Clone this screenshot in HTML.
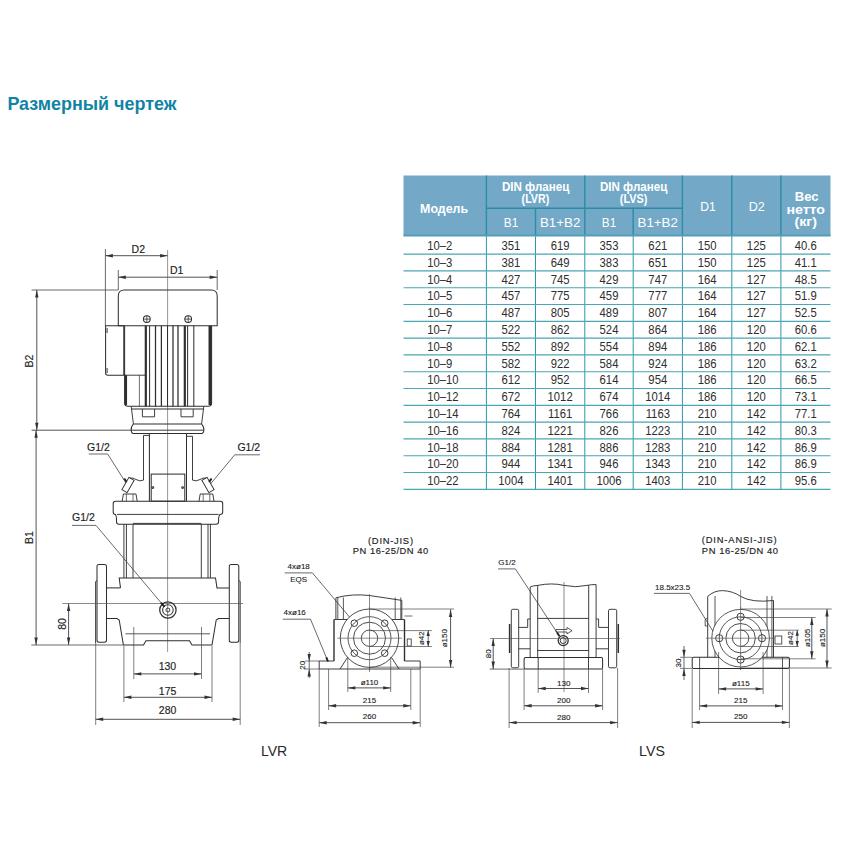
<!DOCTYPE html>
<html><head><meta charset="utf-8"><style>
html,body{margin:0;padding:0;background:#fff;width:850px;height:850px;overflow:hidden}
svg{position:absolute;left:0;top:0}
text{font-family:"Liberation Sans",sans-serif}
.t{font-weight:bold;font-size:19px;fill:#0f84a4}
.hb{font-weight:bold;font-size:12px;fill:#fff}
.hr{font-size:12px;fill:#fff}
.d{font-size:12.3px;fill:#2e2e2e}
.lb{font-size:14.6px;fill:#2a2a2a}
.dm{font-size:10.5px;fill:#222;stroke:#222;stroke-width:0.15}
.sm{font-size:8px;fill:#222;stroke:#222;stroke-width:0.12}
.md{font-size:9.4px;fill:#222;stroke:#222;stroke-width:0.15}
</style></head><body>
<svg width="850" height="850" viewBox="0 0 850 850">
<text x="7.4" y="110" class="t" textLength="169" lengthAdjust="spacingAndGlyphs">Размерный чертеж</text>
<rect x="403.5" y="175.5" width="427.0" height="60.900000000000006" fill="#73a9c7"/>
<line x1="486.4" y1="175.5" x2="486.4" y2="236.4" stroke="#2a8ca6" stroke-width="1.4"/>
<line x1="584.8" y1="175.5" x2="584.8" y2="236.4" stroke="#2a8ca6" stroke-width="1.4"/>
<line x1="682.4" y1="175.5" x2="682.4" y2="236.4" stroke="#2a8ca6" stroke-width="1.4"/>
<line x1="731.8" y1="175.5" x2="731.8" y2="236.4" stroke="#2a8ca6" stroke-width="1.4"/>
<line x1="780.9" y1="175.5" x2="780.9" y2="236.4" stroke="#2a8ca6" stroke-width="1.4"/>
<line x1="535.5" y1="208.3" x2="535.5" y2="236.4" stroke="#2a8ca6" stroke-width="1.4"/>
<line x1="633.2" y1="208.3" x2="633.2" y2="236.4" stroke="#2a8ca6" stroke-width="1.4"/>
<line x1="486.4" y1="236.4" x2="486.4" y2="489.3" stroke="#2b98ae" stroke-width="1"/>
<line x1="535.5" y1="236.4" x2="535.5" y2="489.3" stroke="#2b98ae" stroke-width="1"/>
<line x1="584.8" y1="236.4" x2="584.8" y2="489.3" stroke="#2b98ae" stroke-width="1"/>
<line x1="633.2" y1="236.4" x2="633.2" y2="489.3" stroke="#2b98ae" stroke-width="1"/>
<line x1="682.4" y1="236.4" x2="682.4" y2="489.3" stroke="#2b98ae" stroke-width="1"/>
<line x1="731.8" y1="236.4" x2="731.8" y2="489.3" stroke="#2b98ae" stroke-width="1"/>
<line x1="780.9" y1="236.4" x2="780.9" y2="489.3" stroke="#2b98ae" stroke-width="1"/>
<line x1="486.4" y1="208.3" x2="682.4" y2="208.3" stroke="#2a8ca6" stroke-width="1.4"/>
<line x1="403.5" y1="235.4" x2="830.5" y2="235.4" stroke="#4f9fb6" stroke-width="1.6"/>
<line x1="403.5" y1="254.1" x2="830.5" y2="254.1" stroke="#4aa6b2" stroke-width="1.15"/>
<line x1="403.5" y1="270.9" x2="830.5" y2="270.9" stroke="#4aa6b2" stroke-width="1.15"/>
<line x1="403.5" y1="287.7" x2="830.5" y2="287.7" stroke="#4aa6b2" stroke-width="1.15"/>
<line x1="403.5" y1="304.5" x2="830.5" y2="304.5" stroke="#4aa6b2" stroke-width="1.15"/>
<line x1="403.5" y1="321.3" x2="830.5" y2="321.3" stroke="#4aa6b2" stroke-width="1.15"/>
<line x1="403.5" y1="338.1" x2="830.5" y2="338.1" stroke="#4aa6b2" stroke-width="1.15"/>
<line x1="403.5" y1="354.9" x2="830.5" y2="354.9" stroke="#4aa6b2" stroke-width="1.15"/>
<line x1="403.5" y1="371.7" x2="830.5" y2="371.7" stroke="#4aa6b2" stroke-width="1.15"/>
<line x1="403.5" y1="388.5" x2="830.5" y2="388.5" stroke="#4aa6b2" stroke-width="1.15"/>
<line x1="403.5" y1="405.3" x2="830.5" y2="405.3" stroke="#4aa6b2" stroke-width="1.15"/>
<line x1="403.5" y1="422.1" x2="830.5" y2="422.1" stroke="#4aa6b2" stroke-width="1.15"/>
<line x1="403.5" y1="438.9" x2="830.5" y2="438.9" stroke="#4aa6b2" stroke-width="1.15"/>
<line x1="403.5" y1="455.7" x2="830.5" y2="455.7" stroke="#4aa6b2" stroke-width="1.15"/>
<line x1="403.5" y1="472.5" x2="830.5" y2="472.5" stroke="#4aa6b2" stroke-width="1.15"/>
<line x1="403.5" y1="489.3" x2="830.5" y2="489.3" stroke="#4aa6b2" stroke-width="1.15"/>
<text x="420.1" y="213" class="hb" textLength="48" lengthAdjust="spacingAndGlyphs">Модель</text>
<text x="501.9" y="190.5" class="hb" textLength="67.4" lengthAdjust="spacingAndGlyphs">DIN фланец</text>
<text x="521.6" y="203.2" class="hb" textLength="27.6" lengthAdjust="spacingAndGlyphs">(LVR)</text>
<text x="599.9" y="190.5" class="hb" textLength="67.4" lengthAdjust="spacingAndGlyphs">DIN фланец</text>
<text x="619.8" y="203.2" class="hb" textLength="27.6" lengthAdjust="spacingAndGlyphs">(LVS)</text>
<text x="503.8" y="227.2" class="hr" textLength="14.4" lengthAdjust="spacingAndGlyphs">B1</text>
<text x="540.0" y="227.2" class="hr" textLength="40.3" lengthAdjust="spacingAndGlyphs">B1+B2</text>
<text x="601.8" y="227.2" class="hr" textLength="14.4" lengthAdjust="spacingAndGlyphs">B1</text>
<text x="637.6" y="227.2" class="hr" textLength="40.3" lengthAdjust="spacingAndGlyphs">B1+B2</text>
<text x="700.3" y="211" class="hr" textLength="15.5" lengthAdjust="spacingAndGlyphs">D1</text>
<text x="748.7" y="211" class="hr" textLength="16" lengthAdjust="spacingAndGlyphs">D2</text>
<text x="794.8" y="201" class="hb" textLength="23.6" lengthAdjust="spacingAndGlyphs">Вес</text>
<text x="786.4" y="213.7" class="hb" textLength="38.6" lengthAdjust="spacingAndGlyphs">нетто</text>
<text x="794.4" y="226" class="hb" textLength="22.6" lengthAdjust="spacingAndGlyphs">(кг)</text>
<text class="d" transform="translate(427.2 249.9) scale(0.92 1)">10–2</text>
<text class="d" text-anchor="middle" transform="translate(510.9 249.9) scale(0.92 1)">351</text>
<text class="d" text-anchor="middle" transform="translate(560.1 249.9) scale(0.92 1)">619</text>
<text class="d" text-anchor="middle" transform="translate(609.0 249.9) scale(0.92 1)">353</text>
<text class="d" text-anchor="middle" transform="translate(657.8 249.9) scale(0.92 1)">621</text>
<text class="d" text-anchor="middle" transform="translate(707.1 249.9) scale(0.92 1)">150</text>
<text class="d" text-anchor="middle" transform="translate(756.3 249.9) scale(0.92 1)">125</text>
<text class="d" text-anchor="middle" transform="translate(805.7 249.9) scale(0.92 1)">40.6</text>
<text class="d" transform="translate(427.2 266.7) scale(0.92 1)">10–3</text>
<text class="d" text-anchor="middle" transform="translate(510.9 266.7) scale(0.92 1)">381</text>
<text class="d" text-anchor="middle" transform="translate(560.1 266.7) scale(0.92 1)">649</text>
<text class="d" text-anchor="middle" transform="translate(609.0 266.7) scale(0.92 1)">383</text>
<text class="d" text-anchor="middle" transform="translate(657.8 266.7) scale(0.92 1)">651</text>
<text class="d" text-anchor="middle" transform="translate(707.1 266.7) scale(0.92 1)">150</text>
<text class="d" text-anchor="middle" transform="translate(756.3 266.7) scale(0.92 1)">125</text>
<text class="d" text-anchor="middle" transform="translate(805.7 266.7) scale(0.92 1)">41.1</text>
<text class="d" transform="translate(427.2 283.5) scale(0.92 1)">10–4</text>
<text class="d" text-anchor="middle" transform="translate(510.9 283.5) scale(0.92 1)">427</text>
<text class="d" text-anchor="middle" transform="translate(560.1 283.5) scale(0.92 1)">745</text>
<text class="d" text-anchor="middle" transform="translate(609.0 283.5) scale(0.92 1)">429</text>
<text class="d" text-anchor="middle" transform="translate(657.8 283.5) scale(0.92 1)">747</text>
<text class="d" text-anchor="middle" transform="translate(707.1 283.5) scale(0.92 1)">164</text>
<text class="d" text-anchor="middle" transform="translate(756.3 283.5) scale(0.92 1)">127</text>
<text class="d" text-anchor="middle" transform="translate(805.7 283.5) scale(0.92 1)">48.5</text>
<text class="d" transform="translate(427.2 300.3) scale(0.92 1)">10–5</text>
<text class="d" text-anchor="middle" transform="translate(510.9 300.3) scale(0.92 1)">457</text>
<text class="d" text-anchor="middle" transform="translate(560.1 300.3) scale(0.92 1)">775</text>
<text class="d" text-anchor="middle" transform="translate(609.0 300.3) scale(0.92 1)">459</text>
<text class="d" text-anchor="middle" transform="translate(657.8 300.3) scale(0.92 1)">777</text>
<text class="d" text-anchor="middle" transform="translate(707.1 300.3) scale(0.92 1)">164</text>
<text class="d" text-anchor="middle" transform="translate(756.3 300.3) scale(0.92 1)">127</text>
<text class="d" text-anchor="middle" transform="translate(805.7 300.3) scale(0.92 1)">51.9</text>
<text class="d" transform="translate(427.2 317.1) scale(0.92 1)">10–6</text>
<text class="d" text-anchor="middle" transform="translate(510.9 317.1) scale(0.92 1)">487</text>
<text class="d" text-anchor="middle" transform="translate(560.1 317.1) scale(0.92 1)">805</text>
<text class="d" text-anchor="middle" transform="translate(609.0 317.1) scale(0.92 1)">489</text>
<text class="d" text-anchor="middle" transform="translate(657.8 317.1) scale(0.92 1)">807</text>
<text class="d" text-anchor="middle" transform="translate(707.1 317.1) scale(0.92 1)">164</text>
<text class="d" text-anchor="middle" transform="translate(756.3 317.1) scale(0.92 1)">127</text>
<text class="d" text-anchor="middle" transform="translate(805.7 317.1) scale(0.92 1)">52.5</text>
<text class="d" transform="translate(427.2 333.9) scale(0.92 1)">10–7</text>
<text class="d" text-anchor="middle" transform="translate(510.9 333.9) scale(0.92 1)">522</text>
<text class="d" text-anchor="middle" transform="translate(560.1 333.9) scale(0.92 1)">862</text>
<text class="d" text-anchor="middle" transform="translate(609.0 333.9) scale(0.92 1)">524</text>
<text class="d" text-anchor="middle" transform="translate(657.8 333.9) scale(0.92 1)">864</text>
<text class="d" text-anchor="middle" transform="translate(707.1 333.9) scale(0.92 1)">186</text>
<text class="d" text-anchor="middle" transform="translate(756.3 333.9) scale(0.92 1)">120</text>
<text class="d" text-anchor="middle" transform="translate(805.7 333.9) scale(0.92 1)">60.6</text>
<text class="d" transform="translate(427.2 350.7) scale(0.92 1)">10–8</text>
<text class="d" text-anchor="middle" transform="translate(510.9 350.7) scale(0.92 1)">552</text>
<text class="d" text-anchor="middle" transform="translate(560.1 350.7) scale(0.92 1)">892</text>
<text class="d" text-anchor="middle" transform="translate(609.0 350.7) scale(0.92 1)">554</text>
<text class="d" text-anchor="middle" transform="translate(657.8 350.7) scale(0.92 1)">894</text>
<text class="d" text-anchor="middle" transform="translate(707.1 350.7) scale(0.92 1)">186</text>
<text class="d" text-anchor="middle" transform="translate(756.3 350.7) scale(0.92 1)">120</text>
<text class="d" text-anchor="middle" transform="translate(805.7 350.7) scale(0.92 1)">62.1</text>
<text class="d" transform="translate(427.2 367.5) scale(0.92 1)">10–9</text>
<text class="d" text-anchor="middle" transform="translate(510.9 367.5) scale(0.92 1)">582</text>
<text class="d" text-anchor="middle" transform="translate(560.1 367.5) scale(0.92 1)">922</text>
<text class="d" text-anchor="middle" transform="translate(609.0 367.5) scale(0.92 1)">584</text>
<text class="d" text-anchor="middle" transform="translate(657.8 367.5) scale(0.92 1)">924</text>
<text class="d" text-anchor="middle" transform="translate(707.1 367.5) scale(0.92 1)">186</text>
<text class="d" text-anchor="middle" transform="translate(756.3 367.5) scale(0.92 1)">120</text>
<text class="d" text-anchor="middle" transform="translate(805.7 367.5) scale(0.92 1)">63.2</text>
<text class="d" transform="translate(427.2 384.3) scale(0.92 1)">10–10</text>
<text class="d" text-anchor="middle" transform="translate(510.9 384.3) scale(0.92 1)">612</text>
<text class="d" text-anchor="middle" transform="translate(560.1 384.3) scale(0.92 1)">952</text>
<text class="d" text-anchor="middle" transform="translate(609.0 384.3) scale(0.92 1)">614</text>
<text class="d" text-anchor="middle" transform="translate(657.8 384.3) scale(0.92 1)">954</text>
<text class="d" text-anchor="middle" transform="translate(707.1 384.3) scale(0.92 1)">186</text>
<text class="d" text-anchor="middle" transform="translate(756.3 384.3) scale(0.92 1)">120</text>
<text class="d" text-anchor="middle" transform="translate(805.7 384.3) scale(0.92 1)">66.5</text>
<text class="d" transform="translate(427.2 401.1) scale(0.92 1)">10–12</text>
<text class="d" text-anchor="middle" transform="translate(510.9 401.1) scale(0.92 1)">672</text>
<text class="d" text-anchor="middle" transform="translate(560.1 401.1) scale(0.92 1)">1012</text>
<text class="d" text-anchor="middle" transform="translate(609.0 401.1) scale(0.92 1)">674</text>
<text class="d" text-anchor="middle" transform="translate(657.8 401.1) scale(0.92 1)">1014</text>
<text class="d" text-anchor="middle" transform="translate(707.1 401.1) scale(0.92 1)">186</text>
<text class="d" text-anchor="middle" transform="translate(756.3 401.1) scale(0.92 1)">120</text>
<text class="d" text-anchor="middle" transform="translate(805.7 401.1) scale(0.92 1)">73.1</text>
<text class="d" transform="translate(427.2 417.9) scale(0.92 1)">10–14</text>
<text class="d" text-anchor="middle" transform="translate(510.9 417.9) scale(0.92 1)">764</text>
<text class="d" text-anchor="middle" transform="translate(560.1 417.9) scale(0.92 1)">1161</text>
<text class="d" text-anchor="middle" transform="translate(609.0 417.9) scale(0.92 1)">766</text>
<text class="d" text-anchor="middle" transform="translate(657.8 417.9) scale(0.92 1)">1163</text>
<text class="d" text-anchor="middle" transform="translate(707.1 417.9) scale(0.92 1)">210</text>
<text class="d" text-anchor="middle" transform="translate(756.3 417.9) scale(0.92 1)">142</text>
<text class="d" text-anchor="middle" transform="translate(805.7 417.9) scale(0.92 1)">77.1</text>
<text class="d" transform="translate(427.2 434.7) scale(0.92 1)">10–16</text>
<text class="d" text-anchor="middle" transform="translate(510.9 434.7) scale(0.92 1)">824</text>
<text class="d" text-anchor="middle" transform="translate(560.1 434.7) scale(0.92 1)">1221</text>
<text class="d" text-anchor="middle" transform="translate(609.0 434.7) scale(0.92 1)">826</text>
<text class="d" text-anchor="middle" transform="translate(657.8 434.7) scale(0.92 1)">1223</text>
<text class="d" text-anchor="middle" transform="translate(707.1 434.7) scale(0.92 1)">210</text>
<text class="d" text-anchor="middle" transform="translate(756.3 434.7) scale(0.92 1)">142</text>
<text class="d" text-anchor="middle" transform="translate(805.7 434.7) scale(0.92 1)">80.3</text>
<text class="d" transform="translate(427.2 451.5) scale(0.92 1)">10–18</text>
<text class="d" text-anchor="middle" transform="translate(510.9 451.5) scale(0.92 1)">884</text>
<text class="d" text-anchor="middle" transform="translate(560.1 451.5) scale(0.92 1)">1281</text>
<text class="d" text-anchor="middle" transform="translate(609.0 451.5) scale(0.92 1)">886</text>
<text class="d" text-anchor="middle" transform="translate(657.8 451.5) scale(0.92 1)">1283</text>
<text class="d" text-anchor="middle" transform="translate(707.1 451.5) scale(0.92 1)">210</text>
<text class="d" text-anchor="middle" transform="translate(756.3 451.5) scale(0.92 1)">142</text>
<text class="d" text-anchor="middle" transform="translate(805.7 451.5) scale(0.92 1)">86.9</text>
<text class="d" transform="translate(427.2 468.3) scale(0.92 1)">10–20</text>
<text class="d" text-anchor="middle" transform="translate(510.9 468.3) scale(0.92 1)">944</text>
<text class="d" text-anchor="middle" transform="translate(560.1 468.3) scale(0.92 1)">1341</text>
<text class="d" text-anchor="middle" transform="translate(609.0 468.3) scale(0.92 1)">946</text>
<text class="d" text-anchor="middle" transform="translate(657.8 468.3) scale(0.92 1)">1343</text>
<text class="d" text-anchor="middle" transform="translate(707.1 468.3) scale(0.92 1)">210</text>
<text class="d" text-anchor="middle" transform="translate(756.3 468.3) scale(0.92 1)">142</text>
<text class="d" text-anchor="middle" transform="translate(805.7 468.3) scale(0.92 1)">86.9</text>
<text class="d" transform="translate(427.2 485.1) scale(0.92 1)">10–22</text>
<text class="d" text-anchor="middle" transform="translate(510.9 485.1) scale(0.92 1)">1004</text>
<text class="d" text-anchor="middle" transform="translate(560.1 485.1) scale(0.92 1)">1401</text>
<text class="d" text-anchor="middle" transform="translate(609.0 485.1) scale(0.92 1)">1006</text>
<text class="d" text-anchor="middle" transform="translate(657.8 485.1) scale(0.92 1)">1403</text>
<text class="d" text-anchor="middle" transform="translate(707.1 485.1) scale(0.92 1)">210</text>
<text class="d" text-anchor="middle" transform="translate(756.3 485.1) scale(0.92 1)">142</text>
<text class="d" text-anchor="middle" transform="translate(805.7 485.1) scale(0.92 1)">95.6</text>
<line x1="167.6" y1="250" x2="167.6" y2="652" stroke="#666" stroke-width="0.69"/>
<line x1="105.4" y1="249" x2="105.4" y2="326" stroke="#444" stroke-width="0.8"/>
<line x1="105.4" y1="255.7" x2="167.6" y2="255.7" stroke="#444" stroke-width="0.92"/>
<polygon points="105.4,255.7 112.90,254.00 112.90,257.40" fill="#333"/>
<polygon points="167.6,255.7 160.10,257.40 160.10,254.00" fill="#333"/>
<text x="138.3" y="253" class="dm" text-anchor="middle" >D2</text>
<line x1="118.3" y1="270" x2="118.3" y2="290" stroke="#444" stroke-width="0.8"/>
<line x1="217.2" y1="270" x2="217.2" y2="290" stroke="#444" stroke-width="0.8"/>
<line x1="118.3" y1="277.2" x2="217.2" y2="277.2" stroke="#444" stroke-width="0.92"/>
<polygon points="118.3,277.2 125.80,275.50 125.80,278.90" fill="#333"/>
<polygon points="217.2,277.2 209.70,278.90 209.70,275.50" fill="#333"/>
<text x="176.6" y="274" class="dm" text-anchor="middle" >D1</text>
<path d="M118.3,325.8 V296 Q118.3,290 124.3,290 H211.2 Q217.2,290 217.2,296 V325.8 Z" fill="none" stroke="#2e2e2e" stroke-width="1.03"/>
<line x1="31.6" y1="290" x2="118.3" y2="290" stroke="#444" stroke-width="0.8"/>
<line x1="31.6" y1="430.2" x2="131.2" y2="430.2" stroke="#444" stroke-width="0.92"/>
<line x1="36.8" y1="290" x2="36.8" y2="430.2" stroke="#444" stroke-width="0.92"/>
<polygon points="36.8,290 38.50,297.50 35.10,297.50" fill="#333"/>
<polygon points="36.8,430.2 35.10,422.70 38.50,422.70" fill="#333"/>
<text x="0" y="0" class="dm" text-anchor="middle" transform="translate(28.8,361) rotate(-90) translate(0,3.8)">B2</text>
<circle cx="146.8" cy="319.1" r="3.4" fill="none" stroke="#2e2e2e" stroke-width="1.03"/>
<line x1="143.4" y1="319.1" x2="150.20000000000002" y2="319.1" stroke="#2e2e2e" stroke-width="0.8"/>
<line x1="146.8" y1="315.7" x2="146.8" y2="322.5" stroke="#2e2e2e" stroke-width="0.8"/>
<circle cx="188.2" cy="319.1" r="3.4" fill="none" stroke="#2e2e2e" stroke-width="1.03"/>
<line x1="184.79999999999998" y1="319.1" x2="191.6" y2="319.1" stroke="#2e2e2e" stroke-width="0.8"/>
<line x1="188.2" y1="315.7" x2="188.2" y2="322.5" stroke="#2e2e2e" stroke-width="0.8"/>
<path d="M123.8,325.8 H105.6 V373 Q105.6,375.2 107.8,375.2 H123.8 V325.8" fill="none" stroke="#2e2e2e" stroke-width="1.03"/>
<rect x="106.5" y="328" width="1.2" height="5" fill="#555"/>
<rect x="106.5" y="368" width="1.2" height="5" fill="#555"/>
<path d="M124.6,325.8 V403 Q124.6,406.3 128,406.3 H208.2 Q211.6,406.3 211.6,403 V325.8" fill="none" stroke="#2e2e2e" stroke-width="1.03"/>
<line x1="123.8" y1="375.2" x2="145.2" y2="375.2" stroke="#2e2e2e" stroke-width="0.92"/>
<line x1="125.9" y1="375.2" x2="125.9" y2="405" stroke="#2e2e2e" stroke-width="2.3"/>
<line x1="139.4" y1="375.2" x2="139.4" y2="406.3" stroke="#2e2e2e" stroke-width="0.69"/>
<line x1="145.8" y1="325.8" x2="145.8" y2="406.3" stroke="#2e2e2e" stroke-width="2.18"/>
<line x1="149.6" y1="325.8" x2="149.6" y2="406.3" stroke="#2e2e2e" stroke-width="1.03"/>
<line x1="155.5" y1="325.8" x2="155.5" y2="406.3" stroke="#2e2e2e" stroke-width="1.26"/>
<line x1="161.4" y1="325.8" x2="161.4" y2="406.3" stroke="#2e2e2e" stroke-width="1.26"/>
<line x1="167.5" y1="325.8" x2="167.5" y2="406.3" stroke="#2e2e2e" stroke-width="1.03"/>
<line x1="173" y1="325.8" x2="173" y2="406.3" stroke="#2e2e2e" stroke-width="1.26"/>
<line x1="178" y1="325.8" x2="178" y2="406.3" stroke="#2e2e2e" stroke-width="1.26"/>
<line x1="184.8" y1="325.8" x2="184.8" y2="406.3" stroke="#2e2e2e" stroke-width="2.18"/>
<line x1="187.6" y1="325.8" x2="187.6" y2="406.3" stroke="#2e2e2e" stroke-width="1.03"/>
<line x1="193.8" y1="325.8" x2="193.8" y2="406.3" stroke="#2e2e2e" stroke-width="1.03"/>
<line x1="209.9" y1="325.8" x2="209.9" y2="405" stroke="#2e2e2e" stroke-width="2.76"/>
<line x1="131.2" y1="409" x2="203.8" y2="409" stroke="#2e2e2e" stroke-width="1.03"/>
<polyline points="131.2,406.3 133.4,424" fill="none" stroke="#2e2e2e" stroke-width="0.92"/>
<polyline points="203.8,406.3 201.6,424" fill="none" stroke="#2e2e2e" stroke-width="0.92"/>
<polyline points="142.4,409 142.4,416.8 154.6,416.8 154.6,409" fill="none" stroke="#2e2e2e" stroke-width="0.92"/>
<polyline points="181,409 181,416.8 193.2,416.8 193.2,409" fill="none" stroke="#2e2e2e" stroke-width="0.92"/>
<line x1="133.4" y1="424" x2="201.6" y2="424" stroke="#2e2e2e" stroke-width="1.03"/>
<path d="M133.4,424 Q130.6,427.5 131.2,430.2 Q131.2,433.6 134.5,433.6 H200.5 Q203.8,433.6 203.8,430.2 Q204.4,427.5 201.6,424" fill="none" stroke="#2e2e2e" stroke-width="1.03"/>
<line x1="131.2" y1="430.2" x2="203.8" y2="430.2" stroke="#2e2e2e" stroke-width="0.92"/>
<polyline points="143.5,480 143.5,435.4 149.4,435.4" fill="none" stroke="#2e2e2e" stroke-width="0.92"/>
<polyline points="192.5,480 192.5,436.3 186.5,436.3" fill="none" stroke="#2e2e2e" stroke-width="0.92"/>
<line x1="149.4" y1="433.6" x2="149.4" y2="501.2" stroke="#2e2e2e" stroke-width="1.03"/>
<line x1="186.5" y1="433.6" x2="186.5" y2="501.2" stroke="#2e2e2e" stroke-width="1.03"/>
<rect x="151.2" y="474.1" width="33.6" height="27.1" rx="0" fill="none" stroke="#2e2e2e" stroke-width="1.03"/>
<circle cx="152.8" cy="487.6" r="0.9" fill="none" stroke="#2e2e2e" stroke-width="1.03"/>
<circle cx="182.6" cy="487.6" r="0.9" fill="none" stroke="#2e2e2e" stroke-width="1.03"/>
<path d="M143.7,480 Q140,482 136,479.5 Q133,477.5 130,478" fill="none" stroke="#2e2e2e" stroke-width="0.92"/>
<path d="M192.3,480 Q196,482 200,479.5 Q203,477.5 206,478" fill="none" stroke="#2e2e2e" stroke-width="0.92"/>
<rect x="-7" y="-3" width="14" height="6" fill="none" stroke="#2e2e2e" stroke-width="0.9" transform="translate(128,485) rotate(-60)"/>
<rect x="-7" y="-3" width="14" height="6" fill="none" stroke="#2e2e2e" stroke-width="0.9" transform="translate(208,485) rotate(60)"/>
<line x1="124.2" y1="478.5" x2="126.5" y2="482" stroke="#222" stroke-width="2.07"/>
<line x1="211.5" y1="478.5" x2="209.2" y2="482" stroke="#222" stroke-width="2.07"/>
<polyline points="122.2,501.2 123.4,494 136.0,494 137.2,501.2" fill="none" stroke="#2e2e2e" stroke-width="0.92"/>
<line x1="126.4" y1="494" x2="126.4" y2="501.2" stroke="#2e2e2e" stroke-width="0.69"/>
<line x1="133.0" y1="494" x2="133.0" y2="501.2" stroke="#2e2e2e" stroke-width="0.69"/>
<polyline points="199,501.2 200.2,494 212.8,494 214,501.2" fill="none" stroke="#2e2e2e" stroke-width="0.92"/>
<line x1="203.2" y1="494" x2="203.2" y2="501.2" stroke="#2e2e2e" stroke-width="0.69"/>
<line x1="209.8" y1="494" x2="209.8" y2="501.2" stroke="#2e2e2e" stroke-width="0.69"/>
<path d="M115.5,501.2 H220.4 Q222.7,501.2 222.7,503.5 V512 Q222.7,514.4 220,514.4 Q218.6,516 218.6,519 V521.5 Q218.6,524.2 216,524.2 H119 Q116.5,524.2 116.5,521.5 V519 Q116.5,516 115.5,514.4 Q113.2,514.4 113.2,512 V503.5 Q113.2,501.2 115.5,501.2 Z" fill="none" stroke="#2e2e2e" stroke-width="1.03"/>
<line x1="117" y1="514.4" x2="218.6" y2="514.4" stroke="#2e2e2e" stroke-width="0.92"/>
<line x1="133" y1="523.4" x2="201.3" y2="523.4" stroke="#2e2e2e" stroke-width="0.92"/>
<line x1="123.9" y1="524.2" x2="123.9" y2="578" stroke="#2e2e2e" stroke-width="0.92"/>
<line x1="126.4" y1="524.2" x2="126.4" y2="578" stroke="#2e2e2e" stroke-width="0.92"/>
<line x1="133" y1="524.2" x2="133" y2="578" stroke="#2e2e2e" stroke-width="0.92"/>
<line x1="201.3" y1="524.2" x2="201.3" y2="578" stroke="#2e2e2e" stroke-width="0.92"/>
<line x1="208" y1="524.2" x2="208" y2="578" stroke="#2e2e2e" stroke-width="0.92"/>
<line x1="210.4" y1="524.2" x2="210.4" y2="578" stroke="#2e2e2e" stroke-width="0.92"/>
<polyline points="120.5,587.9 119.2,578 215.5,578 217,587.9 229.3,587.9" fill="none" stroke="#2e2e2e" stroke-width="1.03"/>
<line x1="106.5" y1="587.9" x2="120.5" y2="587.9" stroke="#2e2e2e" stroke-width="1.03"/>
<path d="M99,564.6 H104.5 Q106.5,564.6 106.5,566.6 V640.3 Q106.5,642.3 104.5,642.3 H99 Q97,642.3 97,640.3 V566.6 Q97,564.6 99,564.6 Z" fill="none" stroke="#2e2e2e" stroke-width="1.03"/>
<path d="M231.3,564.6 H236.8 Q238.8,564.6 238.8,566.6 V640.3 Q238.8,642.3 236.8,642.3 H231.3 Q229.3,642.3 229.3,640.3 V566.6 Q229.3,564.6 231.3,564.6 Z" fill="none" stroke="#2e2e2e" stroke-width="1.03"/>
<polyline points="97,580.5 95.6,581.5 95.6,643" fill="none" stroke="#2e2e2e" stroke-width="0.92"/>
<polyline points="238.8,580.5 240.2,581.5 240.2,643" fill="none" stroke="#2e2e2e" stroke-width="0.92"/>
<polyline points="106.5,618.6 117,618.6 119.2,620 123.4,645 143.5,645 146,640.8 189.5,640.8 192,645 212,645 216.2,620 218.5,618.6 229.3,618.6" fill="none" stroke="#2e2e2e" stroke-width="1.03"/>
<line x1="125.5" y1="633.8" x2="210" y2="633.8" stroke="#2e2e2e" stroke-width="0.8"/>
<line x1="62.4" y1="603.5" x2="243" y2="603.5" stroke="#555" stroke-width="0.69"/>
<circle cx="167.9" cy="610" r="8.2" fill="none" stroke="#2e2e2e" stroke-width="1.26"/>
<circle cx="167.9" cy="610" r="5.3" fill="none" stroke="#2e2e2e" stroke-width="1.03"/>
<circle cx="167.9" cy="610" r="2" fill="none" stroke="#2e2e2e" stroke-width="0.92"/>
<text x="98.5" y="450.6" class="dm" text-anchor="middle" >G1/2</text>
<line x1="88.8" y1="454" x2="107.6" y2="454" stroke="#444" stroke-width="0.8"/>
<line x1="107.6" y1="454" x2="126" y2="483" stroke="#444" stroke-width="0.8"/>
<text x="248.8" y="450.6" class="dm" text-anchor="middle" >G1/2</text>
<line x1="234.7" y1="454.8" x2="260" y2="454.8" stroke="#444" stroke-width="0.8"/>
<line x1="234.7" y1="454.8" x2="210.5" y2="484" stroke="#444" stroke-width="0.8"/>
<text x="83.5" y="521" class="dm" text-anchor="middle" >G1/2</text>
<line x1="72" y1="525.4" x2="96" y2="525.4" stroke="#444" stroke-width="0.8"/>
<line x1="96" y1="525.4" x2="163.7" y2="605.9" stroke="#444" stroke-width="0.8"/>
<line x1="161" y1="602.7" x2="164.5" y2="606.8" stroke="#222" stroke-width="1.95"/>
<line x1="31.3" y1="645" x2="123" y2="645" stroke="#444" stroke-width="0.8"/>
<line x1="36.1" y1="430.2" x2="36.1" y2="645" stroke="#444" stroke-width="0.92"/>
<polygon points="36.1,430.2 37.80,437.70 34.40,437.70" fill="#333"/>
<polygon points="36.1,645 34.40,637.50 37.80,637.50" fill="#333"/>
<text x="0" y="0" class="dm" text-anchor="middle" transform="translate(28.8,537.6) rotate(-90) translate(0,3.8)">B1</text>
<line x1="68.6" y1="603.5" x2="68.6" y2="645" stroke="#444" stroke-width="0.92"/>
<polygon points="68.6,603.5 70.30,611.00 66.90,611.00" fill="#333"/>
<polygon points="68.6,645 66.90,637.50 70.30,637.50" fill="#333"/>
<text x="0" y="0" class="dm" text-anchor="middle" transform="translate(61.8,623.9) rotate(-90) translate(0,3.8)">80</text>
<line x1="133.8" y1="627" x2="133.8" y2="679" stroke="#444" stroke-width="0.69"/>
<line x1="201.5" y1="627" x2="201.5" y2="679" stroke="#444" stroke-width="0.69"/>
<line x1="133.8" y1="673.9" x2="201.5" y2="673.9" stroke="#444" stroke-width="0.92"/>
<polygon points="133.8,673.9 141.30,672.20 141.30,675.60" fill="#333"/>
<polygon points="201.5,673.9 194.00,675.60 194.00,672.20" fill="#333"/>
<text x="167.4" y="669.6" class="dm" text-anchor="middle" >130</text>
<line x1="123.9" y1="646" x2="123.9" y2="702" stroke="#444" stroke-width="0.69"/>
<line x1="212" y1="646" x2="212" y2="702" stroke="#444" stroke-width="0.69"/>
<line x1="123.9" y1="697.3" x2="212" y2="697.3" stroke="#444" stroke-width="0.92"/>
<polygon points="123.9,697.3 131.40,695.60 131.40,699.00" fill="#333"/>
<polygon points="212,697.3 204.50,699.00 204.50,695.60" fill="#333"/>
<text x="167.6" y="694.5" class="dm" text-anchor="middle" >175</text>
<line x1="95.7" y1="643" x2="95.7" y2="725" stroke="#444" stroke-width="0.69"/>
<line x1="240.2" y1="643" x2="240.2" y2="725" stroke="#444" stroke-width="0.69"/>
<line x1="95.7" y1="719.3" x2="240.2" y2="719.3" stroke="#444" stroke-width="0.92"/>
<polygon points="95.7,719.3 103.20,717.60 103.20,721.00" fill="#333"/>
<polygon points="240.2,719.3 232.70,721.00 232.70,717.60" fill="#333"/>
<text x="167.6" y="713.7" class="dm" text-anchor="middle" >280</text>
<text x="390.5" y="544.1" class="md" text-anchor="middle"  textLength="45" lengthAdjust="spacing">(DIN-JIS)</text>
<text x="390.5" y="554.1" class="md" text-anchor="middle"  textLength="75.3" lengthAdjust="spacing">PN 16-25/DN 40</text>
<text x="298.7" y="569.2" class="sm" text-anchor="middle" >4xø18</text>
<text x="298.7" y="581.8" class="sm" text-anchor="middle" >EQS</text>
<line x1="284.7" y1="572.9" x2="312.4" y2="572.9" stroke="#444" stroke-width="0.8"/>
<line x1="312.4" y1="572.9" x2="352" y2="620" stroke="#444" stroke-width="0.8"/>
<line x1="350" y1="617.5" x2="353.5" y2="622" stroke="#222" stroke-width="2.07"/>
<text x="294.7" y="614.7" class="sm" text-anchor="middle" >4xø16</text>
<line x1="282.8" y1="619.2" x2="310.5" y2="619.2" stroke="#444" stroke-width="0.8"/>
<line x1="310.5" y1="619.2" x2="328" y2="661.5" stroke="#444" stroke-width="0.8"/>
<line x1="326.3" y1="657.4" x2="328" y2="661.5" stroke="#222" stroke-width="1.95"/>
<path d="M335.9,619.2 V597.8 Q352,593.5 369.4,595.5 Q386,598 401.8,600.4 V619.2" fill="none" stroke="#2e2e2e" stroke-width="0.92"/>
<line x1="337.8" y1="597.5" x2="337.8" y2="619.2" stroke="#2e2e2e" stroke-width="0.8"/>
<line x1="343.4" y1="597.5" x2="343.4" y2="619.2" stroke="#2e2e2e" stroke-width="0.8"/>
<line x1="395.2" y1="597.5" x2="395.2" y2="619.2" stroke="#2e2e2e" stroke-width="0.8"/>
<line x1="400.8" y1="597.5" x2="400.8" y2="619.2" stroke="#2e2e2e" stroke-width="0.8"/>
<line x1="369.5" y1="594" x2="369.5" y2="672" stroke="#555" stroke-width="0.69"/>
<line x1="334" y1="619.5" x2="404.5" y2="619.5" stroke="#2e2e2e" stroke-width="0.92"/>
<line x1="334" y1="619.5" x2="334" y2="661" stroke="#2e2e2e" stroke-width="1.38"/>
<line x1="404.5" y1="619.5" x2="404.5" y2="661" stroke="#2e2e2e" stroke-width="1.38"/>
<line x1="319.2" y1="661" x2="334" y2="661" stroke="#2e2e2e" stroke-width="0.92"/>
<line x1="404.5" y1="661" x2="420.2" y2="661" stroke="#2e2e2e" stroke-width="0.92"/>
<line x1="319.2" y1="661" x2="319.2" y2="669" stroke="#2e2e2e" stroke-width="0.92"/>
<line x1="420.2" y1="661" x2="420.2" y2="669" stroke="#2e2e2e" stroke-width="0.92"/>
<line x1="319.2" y1="669" x2="420.2" y2="669" stroke="#2e2e2e" stroke-width="0.92"/>
<line x1="347.5" y1="657.5" x2="340" y2="669" stroke="#2e2e2e" stroke-width="0.92"/>
<line x1="391.5" y1="657.5" x2="399" y2="669" stroke="#2e2e2e" stroke-width="0.92"/>
<line x1="404.5" y1="616" x2="412.5" y2="616" stroke="#2e2e2e" stroke-width="0.69"/>
<rect x="407.2" y="639" width="4" height="7" rx="0" fill="none" stroke="#2e2e2e" stroke-width="0.8"/>
<circle cx="369.5" cy="638.2" r="29.2" fill="#fff" stroke="#2e2e2e" stroke-width="0.86"/>
<circle cx="369.5" cy="638.2" r="21.5" fill="none" stroke="#2e2e2e" stroke-width="0.8"/>
<circle cx="369.5" cy="638.2" r="16" fill="none" stroke="#2e2e2e" stroke-width="0.86"/>
<circle cx="369.5" cy="638.2" r="8.2" fill="none" stroke="#2e2e2e" stroke-width="0.86"/>
<circle cx="354.3" cy="623.2" r="3.3" fill="none" stroke="#2e2e2e" stroke-width="0.92"/>
<circle cx="354.3" cy="653.2" r="3.3" fill="none" stroke="#2e2e2e" stroke-width="0.92"/>
<circle cx="384.7" cy="623.2" r="3.3" fill="none" stroke="#2e2e2e" stroke-width="0.92"/>
<circle cx="384.7" cy="653.2" r="3.3" fill="none" stroke="#2e2e2e" stroke-width="0.92"/>
<line x1="337.5" y1="638.2" x2="402" y2="638.2" stroke="#555" stroke-width="0.69"/>
<line x1="369.5" y1="607" x2="369.5" y2="670" stroke="#555" stroke-width="0.69"/>
<line x1="369.5" y1="609" x2="454" y2="609" stroke="#444" stroke-width="0.69"/>
<line x1="369.5" y1="667.2" x2="454" y2="667.2" stroke="#444" stroke-width="0.69"/>
<line x1="370" y1="630.6" x2="431.8" y2="630.6" stroke="#444" stroke-width="0.69"/>
<line x1="370" y1="646.5" x2="431.8" y2="646.5" stroke="#444" stroke-width="0.69"/>
<line x1="450.6" y1="609.4" x2="450.6" y2="667.6" stroke="#444" stroke-width="0.92"/>
<polygon points="450.6,609.4 452.30,616.90 448.90,616.90" fill="#333"/>
<polygon points="450.6,667.6 448.90,660.10 452.30,660.10" fill="#333"/>
<text x="0" y="0" class="sm" text-anchor="middle" transform="translate(444.1,638.2) rotate(-90) translate(0,2.9)">ø150</text>
<line x1="428.2" y1="630.6" x2="428.2" y2="646.5" stroke="#444" stroke-width="0.8"/>
<polygon points="428.2,630.6 429.90,636.10 426.50,636.10" fill="#333"/>
<polygon points="428.2,646.5 426.50,641.00 429.90,641.00" fill="#333"/>
<text x="0" y="0" class="sm" text-anchor="middle" transform="translate(421.2,638.2) rotate(-90) translate(0,2.9)">ø42</text>
<line x1="309.2" y1="652" x2="309.2" y2="678" stroke="#444" stroke-width="0.8"/>
<polygon points="309.2,661.5 307.50,654.00 310.90,654.00" fill="#333"/>
<polygon points="309.2,669 310.90,676.50 307.50,676.50" fill="#333"/>
<line x1="305" y1="661" x2="319.2" y2="661" stroke="#444" stroke-width="0.69"/>
<line x1="305" y1="669" x2="319.2" y2="669" stroke="#444" stroke-width="0.69"/>
<text x="0" y="0" class="sm" text-anchor="middle" transform="translate(301.6,665.3) rotate(-90) translate(0,2.9)">20</text>
<line x1="347.8" y1="657" x2="347.8" y2="692" stroke="#444" stroke-width="0.69"/>
<line x1="390.7" y1="657" x2="390.7" y2="692" stroke="#444" stroke-width="0.69"/>
<line x1="347.8" y1="687.9" x2="390.7" y2="687.9" stroke="#444" stroke-width="0.92"/>
<polygon points="347.8,687.9 355.30,686.20 355.30,689.60" fill="#333"/>
<polygon points="390.7,687.9 383.20,689.60 383.20,686.20" fill="#333"/>
<text x="369.5" y="685" class="sm" text-anchor="middle" >ø110</text>
<line x1="328.6" y1="669" x2="328.6" y2="710" stroke="#444" stroke-width="0.69"/>
<line x1="410.8" y1="669" x2="410.8" y2="710" stroke="#444" stroke-width="0.69"/>
<line x1="328.6" y1="705.8" x2="410.8" y2="705.8" stroke="#444" stroke-width="0.92"/>
<polygon points="328.6,705.8 336.10,704.10 336.10,707.50" fill="#333"/>
<polygon points="410.8,705.8 403.30,707.50 403.30,704.10" fill="#333"/>
<text x="369.5" y="703" class="sm" text-anchor="middle" >215</text>
<line x1="319.2" y1="669" x2="319.2" y2="727" stroke="#444" stroke-width="0.69"/>
<line x1="420.2" y1="669" x2="420.2" y2="727" stroke="#444" stroke-width="0.69"/>
<line x1="319.2" y1="722.7" x2="420.2" y2="722.7" stroke="#444" stroke-width="0.92"/>
<polygon points="319.2,722.7 326.70,721.00 326.70,724.40" fill="#333"/>
<polygon points="420.2,722.7 412.70,724.40 412.70,721.00" fill="#333"/>
<text x="369.5" y="719" class="sm" text-anchor="middle" >260</text>
<text x="507" y="565.2" class="sm" text-anchor="middle" >G1/2</text>
<line x1="498" y1="568.9" x2="515.4" y2="568.9" stroke="#444" stroke-width="0.8"/>
<line x1="515.4" y1="568.9" x2="559" y2="635.6" stroke="#444" stroke-width="0.8"/>
<line x1="557" y1="632.5" x2="559.5" y2="636.3" stroke="#222" stroke-width="1.84"/>
<path d="M530.2,658 V587 Q534,585.4 537.7,585.4 Q552,582.5 564,585.4 Q576,588 587,585.4 Q592,584.4 596.1,584.6 V658" fill="none" stroke="#2e2e2e" stroke-width="0.92"/>
<line x1="537.7" y1="585.4" x2="537.7" y2="658" stroke="#2e2e2e" stroke-width="0.92"/>
<line x1="588.7" y1="585.4" x2="588.7" y2="658" stroke="#2e2e2e" stroke-width="0.92"/>
<line x1="564" y1="582" x2="564" y2="692" stroke="#555" stroke-width="0.69"/>
<line x1="537.7" y1="618.4" x2="588.7" y2="618.4" stroke="#2e2e2e" stroke-width="0.92"/>
<line x1="537.7" y1="650.5" x2="588.7" y2="650.5" stroke="#2e2e2e" stroke-width="0.92"/>
<rect x="511.3" y="609.3" width="7.400000000000034" height="58.5" rx="1.5" fill="none" stroke="#2e2e2e" stroke-width="0.92"/>
<line x1="509.6" y1="624" x2="509.6" y2="653" stroke="#2e2e2e" stroke-width="1.49"/>
<rect x="608.5" y="609.3" width="8.200000000000045" height="58.5" rx="1.5" fill="none" stroke="#2e2e2e" stroke-width="0.92"/>
<line x1="618.3" y1="624" x2="618.3" y2="653" stroke="#2e2e2e" stroke-width="1.49"/>
<line x1="518.7" y1="627.4" x2="527.7" y2="627.4" stroke="#2e2e2e" stroke-width="0.92"/>
<line x1="518.7" y1="648.8" x2="530.2" y2="648.8" stroke="#2e2e2e" stroke-width="0.92"/>
<polyline points="527.7,627.4 527.7,619 530.2,619" fill="none" stroke="#2e2e2e" stroke-width="0.92"/>
<line x1="598.6" y1="627.4" x2="608.5" y2="627.4" stroke="#2e2e2e" stroke-width="0.92"/>
<line x1="596.1" y1="648.8" x2="608.5" y2="648.8" stroke="#2e2e2e" stroke-width="0.92"/>
<polyline points="598.6,627.4 598.6,619 596.1,619" fill="none" stroke="#2e2e2e" stroke-width="0.92"/>
<circle cx="563.2" cy="640.6" r="5" fill="none" stroke="#2e2e2e" stroke-width="1.26"/>
<circle cx="563.2" cy="640.6" r="3" fill="none" stroke="#2e2e2e" stroke-width="0.92"/>
<path d="M556,629.5 H567 V627.5 L572,630.7 L567,633.9 V632 H556 Z" fill="none" stroke="#2e2e2e" stroke-width="0.8"/>
<line x1="490" y1="638.5" x2="620" y2="638.5" stroke="#555" stroke-width="0.69"/>
<rect x="524.1" y="657.6" width="78.5" height="11.5" rx="1.5" fill="none" stroke="#2e2e2e" stroke-width="1.03"/>
<line x1="538.2" y1="657.6" x2="538.2" y2="669.1" stroke="#2e2e2e" stroke-width="0.92"/>
<line x1="588.5" y1="657.6" x2="588.5" y2="669.1" stroke="#2e2e2e" stroke-width="0.92"/>
<line x1="489.7" y1="669.1" x2="524.1" y2="669.1" stroke="#444" stroke-width="0.8"/>
<line x1="493.2" y1="638.5" x2="493.2" y2="669.1" stroke="#444" stroke-width="0.92"/>
<polygon points="493.2,638.5 494.90,646.00 491.50,646.00" fill="#333"/>
<polygon points="493.2,669.1 491.50,661.60 494.90,661.60" fill="#333"/>
<text x="0" y="0" class="sm" text-anchor="middle" transform="translate(488.2,653.8) rotate(-90) translate(0,2.9)">80</text>
<line x1="538.2" y1="669" x2="538.2" y2="693" stroke="#444" stroke-width="0.69"/>
<line x1="588.5" y1="669" x2="588.5" y2="693" stroke="#444" stroke-width="0.69"/>
<line x1="538.2" y1="688.5" x2="588.5" y2="688.5" stroke="#444" stroke-width="0.92"/>
<polygon points="538.2,688.5 545.70,686.80 545.70,690.20" fill="#333"/>
<polygon points="588.5,688.5 581.00,690.20 581.00,686.80" fill="#333"/>
<text x="563.8" y="686.2" class="sm" text-anchor="middle" >130</text>
<line x1="524.1" y1="669" x2="524.1" y2="710" stroke="#444" stroke-width="0.69"/>
<line x1="602.6" y1="669" x2="602.6" y2="710" stroke="#444" stroke-width="0.69"/>
<line x1="524.1" y1="705.8" x2="602.6" y2="705.8" stroke="#444" stroke-width="0.92"/>
<polygon points="524.1,705.8 531.60,704.10 531.60,707.50" fill="#333"/>
<polygon points="602.6,705.8 595.10,707.50 595.10,704.10" fill="#333"/>
<text x="563.8" y="703" class="sm" text-anchor="middle" >200</text>
<line x1="509.1" y1="668" x2="509.1" y2="728" stroke="#444" stroke-width="0.69"/>
<line x1="617.6" y1="668" x2="617.6" y2="728" stroke="#444" stroke-width="0.69"/>
<line x1="509.1" y1="722.6" x2="617.6" y2="722.6" stroke="#444" stroke-width="0.92"/>
<polygon points="509.1,722.6 516.60,720.90 516.60,724.30" fill="#333"/>
<polygon points="617.6,722.6 610.10,724.30 610.10,720.90" fill="#333"/>
<text x="563.8" y="719.8" class="sm" text-anchor="middle" >280</text>
<text x="739.2" y="542.6" class="md" text-anchor="middle"  textLength="74.8" lengthAdjust="spacing">(DIN-ANSI-JIS)</text>
<text x="739.9" y="553.9" class="md" text-anchor="middle"  textLength="76.2" lengthAdjust="spacing">PN 16-25/DN 40</text>
<text x="672.6" y="590.1" class="sm" text-anchor="middle" >18.5x23.5</text>
<line x1="654" y1="593.4" x2="689.5" y2="593.4" stroke="#444" stroke-width="0.8"/>
<line x1="689.5" y1="593.4" x2="716.5" y2="637" stroke="#444" stroke-width="0.8"/>
<line x1="714" y1="633" x2="716.5" y2="637" stroke="#222" stroke-width="2.07"/>
<path d="M707.7,657.3 V596.4 Q714,590.6 722.5,590.6 Q733,591 740.6,596.4 Q752,603 773.5,600.5 V657.3" fill="none" stroke="#2e2e2e" stroke-width="0.92"/>
<line x1="715" y1="596" x2="715" y2="657.3" stroke="#2e2e2e" stroke-width="0.8"/>
<line x1="767" y1="596" x2="767" y2="657.3" stroke="#2e2e2e" stroke-width="0.8"/>
<line x1="771.9" y1="596" x2="771.9" y2="657.3" stroke="#2e2e2e" stroke-width="0.8"/>
<polyline points="707.7,617.8 705.2,619.5 705.2,626 707.7,626" fill="none" stroke="#2e2e2e" stroke-width="0.8"/>
<line x1="740.6" y1="590" x2="740.6" y2="670" stroke="#555" stroke-width="0.69"/>
<rect x="692.2" y="657.3" width="97.2" height="11.1" rx="1.5" fill="none" stroke="#2e2e2e" stroke-width="1.03"/>
<line x1="699.6" y1="657.3" x2="699.6" y2="668.4" stroke="#2e2e2e" stroke-width="0.8"/>
<line x1="782.5" y1="657.3" x2="782.5" y2="668.4" stroke="#2e2e2e" stroke-width="0.8"/>
<rect x="775" y="636" width="6.8" height="8" rx="0" fill="none" stroke="#2e2e2e" stroke-width="0.8"/>
<circle cx="740.6" cy="638.2" r="28.8" fill="#fff" stroke="#2e2e2e" stroke-width="0.8"/>
<circle cx="740.6" cy="638.2" r="21.4" fill="none" stroke="#2e2e2e" stroke-width="0.8"/>
<circle cx="740.6" cy="638.2" r="14.7" fill="none" stroke="#2e2e2e" stroke-width="0.86"/>
<circle cx="740.6" cy="638.2" r="8.2" fill="none" stroke="#2e2e2e" stroke-width="0.86"/>
<circle cx="740.6" cy="616.8000000000001" r="3.6" fill="none" stroke="#2e2e2e" stroke-width="0.92"/>
<circle cx="740.6" cy="659.6" r="3.6" fill="none" stroke="#2e2e2e" stroke-width="0.92"/>
<circle cx="719.2" cy="638.2" r="3.6" fill="none" stroke="#2e2e2e" stroke-width="0.92"/>
<circle cx="762.0" cy="638.2" r="3.6" fill="none" stroke="#2e2e2e" stroke-width="0.92"/>
<line x1="706" y1="638.2" x2="775" y2="638.2" stroke="#555" stroke-width="0.69"/>
<line x1="740.6" y1="607" x2="740.6" y2="670" stroke="#555" stroke-width="0.69"/>
<line x1="741" y1="609" x2="831.7" y2="609" stroke="#444" stroke-width="0.69"/>
<line x1="741" y1="617.5" x2="815.6" y2="617.5" stroke="#444" stroke-width="0.69"/>
<line x1="741" y1="630.2" x2="798.8" y2="630.2" stroke="#444" stroke-width="0.69"/>
<line x1="741" y1="646.5" x2="798.8" y2="646.5" stroke="#444" stroke-width="0.69"/>
<line x1="741" y1="658.8" x2="815.6" y2="658.8" stroke="#444" stroke-width="0.69"/>
<line x1="741" y1="668" x2="831.7" y2="668" stroke="#444" stroke-width="0.69"/>
<line x1="827" y1="609" x2="827" y2="668" stroke="#444" stroke-width="0.92"/>
<polygon points="827,609 828.70,616.50 825.30,616.50" fill="#333"/>
<polygon points="827,668 825.30,660.50 828.70,660.50" fill="#333"/>
<text x="0" y="0" class="sm" text-anchor="middle" transform="translate(821.7,638) rotate(-90) translate(0,2.9)">ø150</text>
<line x1="811.8" y1="617.5" x2="811.8" y2="658.8" stroke="#444" stroke-width="0.92"/>
<polygon points="811.8,617.5 813.50,625.00 810.10,625.00" fill="#333"/>
<polygon points="811.8,658.8 810.10,651.30 813.50,651.30" fill="#333"/>
<text x="0" y="0" class="sm" text-anchor="middle" transform="translate(807.2,638) rotate(-90) translate(0,2.9)">ø105</text>
<line x1="797.2" y1="630.2" x2="797.2" y2="646.5" stroke="#444" stroke-width="0.8"/>
<polygon points="797.2,630.2 798.90,635.70 795.50,635.70" fill="#333"/>
<polygon points="797.2,646.5 795.50,641.00 798.90,641.00" fill="#333"/>
<text x="0" y="0" class="sm" text-anchor="middle" transform="translate(790.4,638) rotate(-90) translate(0,2.9)">ø42</text>
<line x1="684" y1="646" x2="684" y2="680" stroke="#444" stroke-width="0.8"/>
<polygon points="684,657.3 682.30,649.80 685.70,649.80" fill="#333"/>
<polygon points="684,668.4 685.70,675.90 682.30,675.90" fill="#333"/>
<line x1="680" y1="657.3" x2="692.2" y2="657.3" stroke="#444" stroke-width="0.69"/>
<line x1="680" y1="668.4" x2="692.2" y2="668.4" stroke="#444" stroke-width="0.69"/>
<text x="0" y="0" class="sm" text-anchor="middle" transform="translate(678,663) rotate(-90) translate(0,2.9)">30</text>
<line x1="718.6" y1="652" x2="718.6" y2="694" stroke="#444" stroke-width="0.69"/>
<line x1="763.1" y1="652" x2="763.1" y2="694" stroke="#444" stroke-width="0.69"/>
<line x1="718.6" y1="688.9" x2="763.1" y2="688.9" stroke="#444" stroke-width="0.92"/>
<polygon points="718.6,688.9 726.10,687.20 726.10,690.60" fill="#333"/>
<polygon points="763.1,688.9 755.60,690.60 755.60,687.20" fill="#333"/>
<text x="740.8" y="685.8" class="sm" text-anchor="middle" >ø115</text>
<line x1="699.6" y1="669" x2="699.6" y2="710" stroke="#444" stroke-width="0.69"/>
<line x1="782.5" y1="669" x2="782.5" y2="710" stroke="#444" stroke-width="0.69"/>
<line x1="699.6" y1="705.9" x2="782.5" y2="705.9" stroke="#444" stroke-width="0.92"/>
<polygon points="699.6,705.9 707.10,704.20 707.10,707.60" fill="#333"/>
<polygon points="782.5,705.9 775.00,707.60 775.00,704.20" fill="#333"/>
<text x="740.8" y="703" class="sm" text-anchor="middle" >215</text>
<line x1="692.2" y1="669" x2="692.2" y2="728" stroke="#444" stroke-width="0.69"/>
<line x1="789.4" y1="669" x2="789.4" y2="728" stroke="#444" stroke-width="0.69"/>
<line x1="692.2" y1="722.4" x2="789.4" y2="722.4" stroke="#444" stroke-width="0.92"/>
<polygon points="692.2,722.4 699.70,720.70 699.70,724.10" fill="#333"/>
<polygon points="789.4,722.4 781.90,724.10 781.90,720.70" fill="#333"/>
<text x="740.8" y="719" class="sm" text-anchor="middle" >250</text>
<text x="260.9" y="756.4" class="lb" textLength="26.3" lengthAdjust="spacingAndGlyphs">LVR</text>
<text x="639.1" y="756.4" class="lb" textLength="25.8" lengthAdjust="spacingAndGlyphs">LVS</text>
</svg>
</body></html>
